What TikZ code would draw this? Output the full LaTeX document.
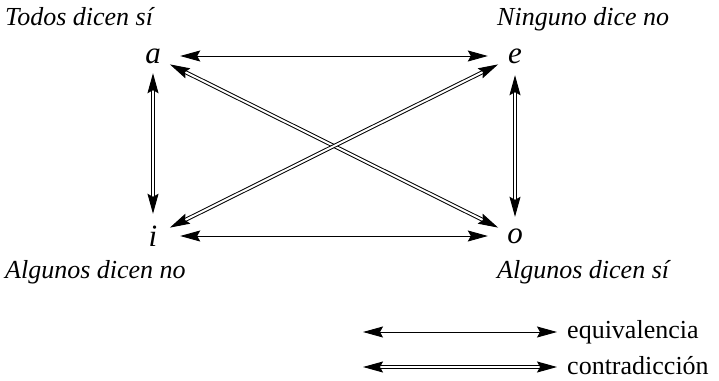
\documentclass[tikz,border=0pt]{standalone}
\usepackage{fontspec}
\setmainfont{Liberation Serif}
\usetikzlibrary{arrows.meta,shapes.geometric}
\begin{document}
\begin{tikzpicture}[x=1pt,y=-1pt,
  lbl/.style={font=\fontsize{26}{30}\selectfont\itshape, anchor=base west, inner sep=0},
  leg/.style={font=\fontsize{26}{30}\selectfont, anchor=base west, inner sep=0},
  vert/.style={ellipse, minimum width=54pt, minimum height=38pt, inner sep=0, font=\fontsize{31}{35}\selectfont\itshape},
  tipa/.tip={Stealth[length=20pt,width=11pt,inset=3pt]},
  equiv/.style={tipa-tipa, line width=0.9pt},
  contra/.style={tipa-tipa, double, double distance=2pt, line width=1pt},
  diag/.style={shorten <=-6pt, shorten >=-6pt}]
\useasboundingbox (0,0) rectangle (719,380);
\node[vert] (a) at (153,56) {a};
\node[vert] (e) at (515,56) {e};
\node[vert] (i) at (153,236) {i};
\node[vert] (o) at (515,236) {o};
\node[lbl] (la) at (5,25) {Todos dicen sí};
\node[lbl] (le) at (497,25) {Ninguno dice no};
\node[lbl] (li) at (5,278) {Algunos dicen no};
\node[lbl] (lo) at (497,278) {Algunos dicen sí};
\draw[equiv] (a) -- (e);
\draw[equiv] (i) -- (o);
\draw[contra, shorten <=-2pt, shorten >=3pt] (a) -- (i);
\draw[contra] (e) -- (o);
\draw[contra, diag] (a) -- (o);
\draw[contra, diag] (i) -- (e);
\coordinate (q1) at (363,332);
\coordinate (q2) at (557,332);
\coordinate (c1) at (363,367);
\coordinate (c2) at (557,367);
\draw[equiv] (q1) -- (q2);
\draw[contra] (c1) -- (c2);
\node[leg] (tq) at (567,338) {equivalencia};
\node[leg] (tc) at (567,374) {contradicción};
\end{tikzpicture}
\end{document}
